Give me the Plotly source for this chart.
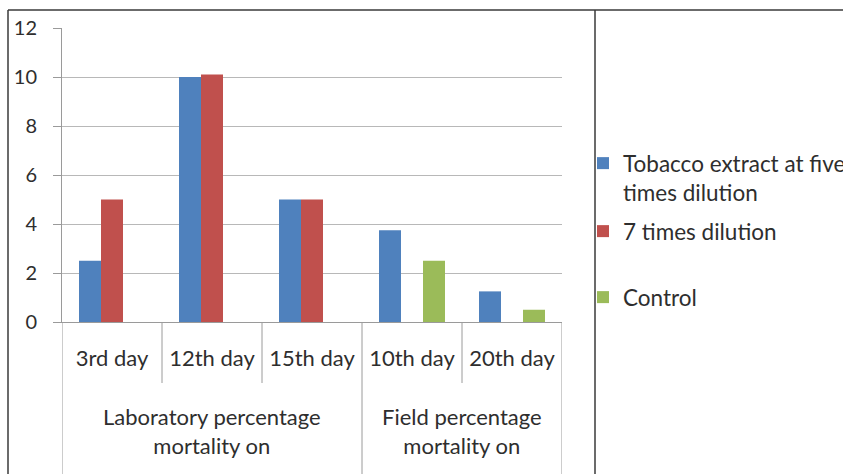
import plotly.graph_objects as go

# Data
days = ["3rd day", "12th day", "15th day", "10th day", "20th day"]
groups = ["Laboratory percentage<br>mortality on", "Field percentage<br>mortality on"]
group_centers = [1, 3.5]
tobacco_five = [2.5, 10, 5, 3.75, 1.25]
seven_times = [5, 10.1, 5, None, None]
control = [None, None, None, 2.5, 0.5]
series_names = ["Tobacco extract at five<br>times dilution", "7 times dilution", "Control"]
colors = ["#4F81BD", "#C0504D", "#9BBB59"]
y_ticks = [0, 2, 4, 6, 8, 10, 12]

W, H = 843, 474
PL, PR, PT, PB = 62, 562, 28, 322  # plot area in pixels

def px_x(x):
    return (x - PL) / (PR - PL)

def px_y(y):
    return (PB - y) / (PB - PT)

FONT = "Lato"
TXT = "#2e2e2e"
GRID = "#b8b8b8"
AXIS = "#9a9a9a"
FRAME = "#3a3a3a"

fig = go.Figure()
for i, (vals, name) in enumerate(zip([tobacco_five, seven_times, control], series_names)):
    fig.add_trace(go.Bar(
        x=days, y=vals, name=name,
        marker=dict(color=colors[i], line=dict(width=0)),
        legend="legend" if i == 0 else f"legend{i+1}",
    ))

shapes = []
# inner dividers between days
for b in [0.5, 1.5, 3.5]:
    shapes.append(dict(type="line", xref="x", yref="paper", x0=b, x1=b,
                       y0=0, y1=px_y(383), line=dict(color=AXIS, width=1)))
# group dividers running to the bottom edge
for b in [-0.5, 2.5, 4.5]:
    shapes.append(dict(type="line", xref="x", yref="paper", x0=b, x1=b,
                       y0=0, y1=px_y(480), line=dict(color=AXIS, width=1)))
# outer frame
shapes += [
    dict(type="line", xref="paper", yref="paper", x0=px_x(8), x1=px_x(8),
         y0=px_y(10), y1=px_y(480), line=dict(color=FRAME, width=1.5)),
    dict(type="line", xref="paper", yref="paper", x0=px_x(595), x1=px_x(595),
         y0=px_y(10), y1=px_y(480), line=dict(color=FRAME, width=1.5)),
    dict(type="line", xref="paper", yref="paper", x0=px_x(8), x1=px_x(850),
         y0=px_y(10), y1=px_y(10), line=dict(color=FRAME, width=1.5)),
]

annotations = [
    dict(text=g, x=c, xref="x", y=px_y(431), yref="paper", showarrow=False,
         xanchor="center", yanchor="middle", align="center",
         font=dict(family=FONT, size=22, color=TXT))
    for g, c in zip(groups, group_centers)
]

legend_common = dict(xref="paper", yref="paper", xanchor="left", yanchor="top",
                     bgcolor="rgba(0,0,0,0)", borderwidth=0, valign="top",
                     font=dict(family=FONT, size=22.5, color=TXT))
lx = px_x(583)

fig.update_layout(
    width=W, height=H,
    margin=dict(l=PL, r=W - PR, t=PT, b=H - PB, autoexpand=False),
    paper_bgcolor="white", plot_bgcolor="white",
    barmode="group", bargap=0.34, bargroupgap=0,
    showlegend=True,
    legend=dict(x=lx, y=px_y(142), **legend_common),
    legend2=dict(x=lx, y=px_y(210), **legend_common),
    legend3=dict(x=lx, y=px_y(276), **legend_common),
    xaxis=dict(type="category", range=[-0.5, 4.5], showgrid=False, zeroline=False,
               showline=True, linecolor=AXIS, linewidth=1, ticks="",
               ticklabelstandoff=17,
               tickfont=dict(family=FONT, size=22, color=TXT)),
    yaxis=dict(range=[0, 12], tickvals=y_ticks, showgrid=True, gridcolor=GRID,
               gridwidth=1, zeroline=False, showline=True, linecolor=AXIS,
               linewidth=1, ticks="outside", ticklen=8, tickcolor=AXIS,
               ticklabelstandoff=12,
               tickfont=dict(family=FONT, size=20, color=TXT)),
    shapes=shapes, annotations=annotations,
)

fig.write_html("out.html")
